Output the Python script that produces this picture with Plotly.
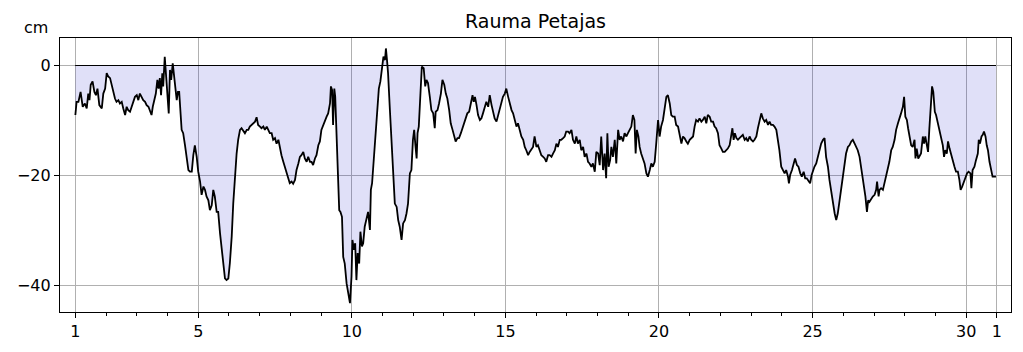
import plotly.graph_objects as go

station = "Rauma Petajas"
unit_label = "cm"

# Time in days of the month (day 31 = 1st of next month), sea level in cm
day = [
    1.00,1.04,1.10,1.17,1.24,1.31,1.37,1.42,1.46,1.50,
    1.56,1.62,1.67,1.72,1.78,1.86,1.91,1.97,2.02,2.07,
    2.13,2.18,2.24,2.29,2.34,2.40,2.45,2.51,2.56,2.62,
    2.67,2.72,2.78,2.83,2.89,2.94,3.00,3.05,3.10,3.16,
    3.21,3.27,3.32,3.38,3.43,3.48,3.52,3.57,3.62,3.67,
    3.71,3.75,3.79,3.83,3.86,3.91,3.95,3.99,4.04,4.08,
    4.12,4.17,4.21,4.25,4.30,4.34,4.38,
    4.46,4.51,4.57,4.62,4.68,4.73,4.79,4.84,4.89,4.95,
    5.00,5.06,5.11,5.17,5.22,5.27,5.33,5.38,5.44,5.49,
    5.54,5.60,5.65,5.71,5.76,5.82,5.87,5.92,5.98,6.03,
    6.09,6.14,6.20,6.25,6.30,6.36,6.41,6.47,6.52,6.58,
    6.63,6.68,6.74,6.79,6.85,6.90,6.95,7.01,7.06,7.12,
    7.17,7.23,7.28,7.33,7.39,7.44,7.50,7.55,7.61,7.66,
    7.71,7.77,7.82,7.88,7.93,7.98,8.04,8.09,8.15,8.20,
    8.26,
    8.31,8.36,8.42,8.47,8.53,8.58,8.64,8.69,8.74,8.80,
    8.85,8.91,8.96,9.01,9.07,9.12,9.18,9.23,9.29,9.32,
    9.36,9.39,9.43,9.46,9.50,9.54,9.59,9.63,9.68,9.72,
    9.77,9.83,9.88,9.94,9.99,10.02,10.07,10.11,10.15,10.19,
    10.24,10.28,10.33,10.37,10.42,10.48,10.53,10.59,10.62,10.66,
    10.72,10.77,10.83,10.88,10.93,10.99,11.03,11.08,11.11,11.15,
    11.18,11.24,11.29,11.35,11.40,11.46,11.51,11.56,11.62,11.67,
    11.73,11.78,11.83,11.89,11.94,11.99,12.03,12.07,12.11,12.14,
    12.18,12.24,12.28,
    12.34,12.39,12.43,12.48,12.54,12.59,12.65,12.70,12.73,12.79,
    12.84,12.90,12.95,13.01,13.06,13.11,13.17,13.22,13.28,13.33,
    13.38,13.44,13.49,13.55,13.60,13.66,13.71,13.76,13.82,13.87,
    13.93,13.97,14.01,14.06,14.11,14.17,14.22,14.27,14.33,14.38,
    14.44,14.49,14.55,14.60,14.65,14.71,14.76,14.82,14.87,14.92,
    14.98,15.03,15.09,15.14,15.20,15.25,15.30,15.36,15.41,15.47,
    15.52,15.58,15.63,15.68,15.74,15.79,15.85,15.90,15.95,16.01,
    16.06,
    16.12,16.17,16.23,16.28,16.33,16.39,16.44,16.50,16.55,16.61,
    16.66,16.71,16.77,16.82,16.88,16.93,16.98,17.04,17.09,17.15,
    17.20,17.26,17.31,17.36,17.42,17.47,17.53,17.58,17.64,17.69,
    17.74,17.80,17.85,17.91,17.96,18.02,18.07,18.12,18.18,18.23,
    18.28,18.32,18.36,18.41,18.45,18.50,18.56,18.61,18.67,18.72,
    18.77,18.83,18.88,18.94,18.99,19.04,19.10,19.15,19.20,19.24,
    19.28,19.33,19.37,19.42,19.48,19.53,19.59,19.64,19.70,19.75,
    19.80,19.86,19.91,19.97,
    20.02,20.07,20.13,20.18,20.24,20.29,20.35,20.40,20.45,20.51,
    20.56,20.62,20.67,20.73,20.78,20.83,20.89,20.94,21.00,21.05,
    21.11,21.16,21.21,21.27,21.32,21.38,21.43,21.49,21.54,21.59,
    21.65,21.70,21.76,21.81,21.86,21.92,21.97,22.03,22.08,22.14,
    22.19,22.24,22.30,22.35,22.39,22.43,22.47,22.52,22.57,22.62,
    22.68,22.73,22.79,22.84,22.89,22.95,23.00,23.06,23.11,23.17,
    23.22,23.27,23.33,23.38,23.44,23.49,23.55,23.60,23.65,23.71,
    23.76,23.82,23.87,23.92,
    23.98,24.03,24.09,24.14,24.20,24.23,24.27,24.33,24.38,24.43,
    24.49,24.54,24.60,24.65,24.71,24.76,24.81,24.87,24.92,24.97,
    25.01,25.06,25.12,25.17,25.23,25.28,25.34,25.39,25.44,25.50,
    25.55,25.61,25.66,25.72,25.77,25.82,25.88,25.93,25.99,26.04,
    26.09,26.15,26.20,26.26,26.31,26.37,26.42,26.47,26.53,26.58,
    26.64,26.69,26.72,26.77,26.81,26.85,26.91,26.96,27.02,27.07,
    27.10,27.15,27.18,27.23,27.29,27.34,27.40,27.45,27.50,27.56,
    27.61,27.67,27.72,27.78,
    27.83,27.88,27.94,27.98,28.02,28.07,28.11,28.15,28.21,28.26,
    28.32,28.35,28.39,28.44,28.48,28.53,28.59,28.63,28.67,28.72,
    28.76,28.80,28.85,28.89,28.93,28.98,29.02,29.07,29.13,29.18,
    29.24,29.28,29.32,29.37,29.41,29.46,29.51,29.56,29.62,29.67,
    29.73,29.78,29.82,29.87,29.92,29.97,30.03,30.08,30.14,30.17,
    30.21,30.27,30.32,30.38,30.41,30.45,30.50,30.54,30.58,30.63,
    30.67,30.71,30.76,30.81,30.86,30.92,30.97,
]

level_cm = [
    -9.0,-6.6,-6.6,-4.8,-7.5,-6.9,-7.8,-5.1,-6.3,-3.5,
    -2.9,-4.8,-5.4,-4.2,-7.2,-7.8,-5.1,-4.2,-1.4,-2.0,
    -2.3,-3.5,-4.8,-6.0,-6.6,-6.3,-6.9,-6.6,-7.8,-9.0,
    -7.5,-8.1,-8.4,-7.5,-6.6,-5.7,-5.4,-6.3,-5.1,-5.7,
    -6.3,-6.6,-7.2,-7.5,-8.1,-9.0,-7.5,-6.3,-5.1,-2.6,
    -4.2,-2.3,-5.4,-1.4,-3.8,1.6,-2.0,-3.8,-8.7,-0.8,
    -2.6,0.4,-2.0,-3.2,-6.3,-4.8,-4.8,
    -11.7,-12.3,-14.5,-16.6,-19.0,-19.3,-19.3,-16.3,-14.5,-16.6,
    -19.3,-21.1,-23.5,-22.0,-22.6,-23.8,-24.5,-26.3,-25.4,-22.6,
    -23.8,-26.6,-26.6,-30.5,-32.9,-35.9,-38.7,-39.0,-38.7,-35.9,
    -31.1,-25.1,-19.6,-16.0,-13.5,-11.7,-11.4,-12.0,-12.3,-11.7,
    -11.7,-11.1,-10.8,-10.5,-10.2,-9.4,-10.8,-11.1,-11.4,-11.1,
    -11.7,-11.1,-11.7,-12.3,-12.3,-13.5,-13.2,-14.2,-13.5,-15.1,
    -16.3,-17.5,-18.4,-19.3,-20.5,-21.4,-21.1,-21.5,-20.8,-19.0,
    -17.8,
    -16.6,-16.3,-15.7,-16.9,-17.5,-16.6,-17.5,-17.5,-18.1,-16.9,
    -16.3,-14.5,-13.8,-11.7,-10.8,-9.9,-9.3,-8.7,-6.9,-3.8,
    -4.5,-10.8,-4.2,-5.7,-12.9,-19.0,-26.3,-26.6,-27.5,-34.8,
    -36.0,-39.6,-41.4,-43.2,-38.4,-31.7,-33.5,-32.3,-39.0,-34.1,
    -36.0,-30.2,-32.9,-32.3,-29.3,-27.8,-26.6,-29.9,-22.6,-21.4,
    -16.6,-11.7,-6.9,-4.2,-2.9,0.4,1.6,1.0,3.1,0.7,
    -1.4,-8.1,-14.2,-19.6,-25.1,-25.7,-28.1,-29.3,-31.7,-28.7,
    -28.1,-26.9,-25.1,-19.6,-19.0,-13.5,-11.7,-14.5,-16.9,-12.3,
    -11.1,-4.5,-0.2,
    -0.5,-3.8,-2.6,-3.2,-5.7,-8.1,-8.7,-11.4,-8.4,-8.1,
    -6.9,-5.1,-2.6,-3.5,-5.1,-6.0,-8.1,-10.5,-11.7,-12.9,
    -13.8,-13.2,-13.2,-12.3,-11.4,-10.5,-9.3,-8.7,-8.4,-6.9,
    -5.4,-6.6,-5.7,-7.2,-9.0,-9.9,-9.6,-8.7,-7.5,-6.6,
    -7.5,-5.4,-7.2,-8.4,-9.6,-10.2,-9.0,-7.8,-6.6,-5.7,
    -5.1,-4.2,-5.7,-6.9,-8.1,-8.7,-9.9,-11.1,-10.5,-11.7,
    -12.9,-13.5,-14.8,-15.4,-16.3,-15.7,-15.1,-14.8,-12.9,-14.8,
    -14.5,
    -15.4,-16.3,-16.6,-16.9,-17.5,-16.3,-16.3,-16.6,-16.0,-15.4,
    -14.2,-14.8,-13.5,-13.5,-13.2,-12.9,-12.0,-12.0,-12.3,-11.7,
    -13.5,-14.2,-12.9,-14.2,-13.5,-15.4,-14.8,-16.6,-16.0,-17.5,
    -17.8,-18.4,-17.8,-19.3,-15.7,-16.0,-18.1,-12.9,-19.0,-16.0,
    -20.5,-12.3,-18.4,-17.2,-14.8,-16.6,-13.5,-17.8,-11.7,-13.5,
    -12.9,-13.8,-12.3,-12.9,-12.3,-11.7,-11.1,-9.0,-9.9,-16.0,
    -11.7,-12.9,-14.8,-16.0,-17.2,-17.8,-19.6,-20.2,-19.0,-17.8,
    -18.4,-17.5,-14.2,-9.9,
    -12.9,-11.1,-9.9,-8.1,-5.7,-5.4,-6.9,-9.0,-9.3,-9.3,
    -10.8,-11.1,-12.3,-14.2,-12.9,-13.2,-13.8,-14.2,-13.5,-13.2,
    -12.9,-11.1,-9.9,-10.2,-9.6,-10.2,-9.9,-9.3,-10.5,-9.0,
    -9.3,-10.2,-10.2,-11.1,-11.4,-12.3,-14.5,-15.1,-15.7,-15.7,
    -15.4,-15.1,-14.5,-12.9,-11.4,-13.5,-12.3,-13.2,-13.5,-13.2,
    -12.9,-12.6,-13.5,-13.2,-13.8,-12.9,-13.5,-13.8,-13.5,-12.9,
    -11.4,-10.2,-8.7,-9.6,-10.2,-9.9,-10.8,-10.2,-10.8,-10.8,
    -11.1,-11.7,-13.5,-15.4,
    -18.4,-19.0,-19.6,-19.0,-20.2,-21.4,-19.9,-19.0,-17.8,-16.9,
    -18.1,-18.4,-19.6,-20.2,-19.3,-20.5,-20.5,-21.1,-21.4,-19.9,
    -19.0,-18.4,-17.8,-16.6,-15.7,-14.2,-13.5,-13.2,-16.6,-18.4,
    -20.8,-23.2,-25.1,-26.9,-28.1,-26.9,-24.5,-22.6,-19.6,-17.8,
    -16.0,-14.8,-14.5,-13.8,-13.5,-14.2,-14.8,-15.4,-16.6,-18.4,
    -20.2,-22.6,-23.8,-26.6,-24.5,-24.8,-24.2,-23.8,-23.5,-22.6,
    -21.1,-23.8,-22.6,-22.3,-22.6,-21.4,-20.2,-19.0,-17.5,-15.4,
    -14.8,-13.5,-11.7,-10.5,
    -9.3,-8.7,-7.5,-5.7,-9.3,-9.9,-11.4,-12.9,-14.5,-14.8,
    -13.5,-16.9,-15.1,-16.9,-16.6,-16.0,-12.9,-14.2,-12.9,-14.5,
    -15.7,-11.7,-7.5,-3.8,-4.8,-8.4,-9.0,-10.2,-11.7,-12.9,
    -14.5,-16.6,-15.4,-16.0,-13.8,-15.1,-16.3,-17.2,-18.4,-19.3,
    -19.3,-20.8,-22.6,-22.0,-21.4,-20.5,-19.6,-19.3,-19.6,-22.3,
    -19.0,-18.4,-17.2,-16.0,-13.5,-14.2,-12.9,-12.6,-12.0,-12.9,
    -14.5,-15.4,-17.5,-18.7,-20.2,-20.2,-20.2,
]

assert len(day) == len(level_cm), (len(day), len(level_cm))

x_tick_vals = [1, 5, 10, 15, 20, 25, 30, 31]
x_tick_text = ["1", "5", "10", "15", "20", "25", "30", "1"]
x_minor_vals = [d for d in range(2, 30) if d not in x_tick_vals]
y_tick_vals = [0, -20, -40]
x_range = [0.5, 31.46]
y_range = [-44.8, 5.0]

FONT = "DejaVu Sans"
GRID = "#b0b0b0"

fig = go.Figure()
# baseline (reference level 0)
fig.add_trace(go.Scatter(x=[day[0], day[-1]], y=[0, 0], mode="lines",
                         line=dict(color="black", width=1.2), hoverinfo="skip"))
# sea level, filled toward the baseline
fig.add_trace(go.Scatter(x=day, y=level_cm, mode="lines", fill="tonexty",
                         fillcolor="rgba(0,0,200,0.12)",
                         line=dict(color="black", width=1.8)))
# baseline drawn again on top
fig.add_trace(go.Scatter(x=[day[0], day[-1]], y=[0, 0], mode="lines",
                         line=dict(color="black", width=1.2), hoverinfo="skip"))

axis_common = dict(showline=True, linecolor="black", linewidth=1.3, mirror=True,
                   ticks="outside", ticklen=5, tickwidth=1, tickcolor="black",
                   showgrid=True, gridcolor=GRID, gridwidth=1, zeroline=False,
                   tickfont=dict(family=FONT, size=16, color="black"))

fig.update_xaxes(range=x_range, tickmode="array", tickvals=x_tick_vals,
                 ticktext=x_tick_text,
                 minor=dict(tickmode="array", tickvals=x_minor_vals, ticks="outside",
                            ticklen=3, tickwidth=1, tickcolor="black", showgrid=False),
                 **axis_common)
fig.update_yaxes(range=y_range, tickmode="array", tickvals=y_tick_vals, **axis_common)

fig.update_layout(
    width=1023, height=352,
    margin=dict(l=60, r=12, t=38, b=40),
    plot_bgcolor="white", paper_bgcolor="white",
    showlegend=False,
    font=dict(family=FONT, size=16, color="black"),
    title=dict(text=station, x=0.5, xref="paper", xanchor="center",
               y=1 - 21 / 352, yref="container", yanchor="middle",
               font=dict(family=FONT, size=19, color="black")),
    annotations=[dict(text=unit_label, xref="paper", yref="paper",
                      x=(35.5 - 60) / 951, y=(312 - 27) / 274,
                      xanchor="center", yanchor="middle", showarrow=False,
                      font=dict(family=FONT, size=16, color="black"))],
)

fig.write_html("out.html")
